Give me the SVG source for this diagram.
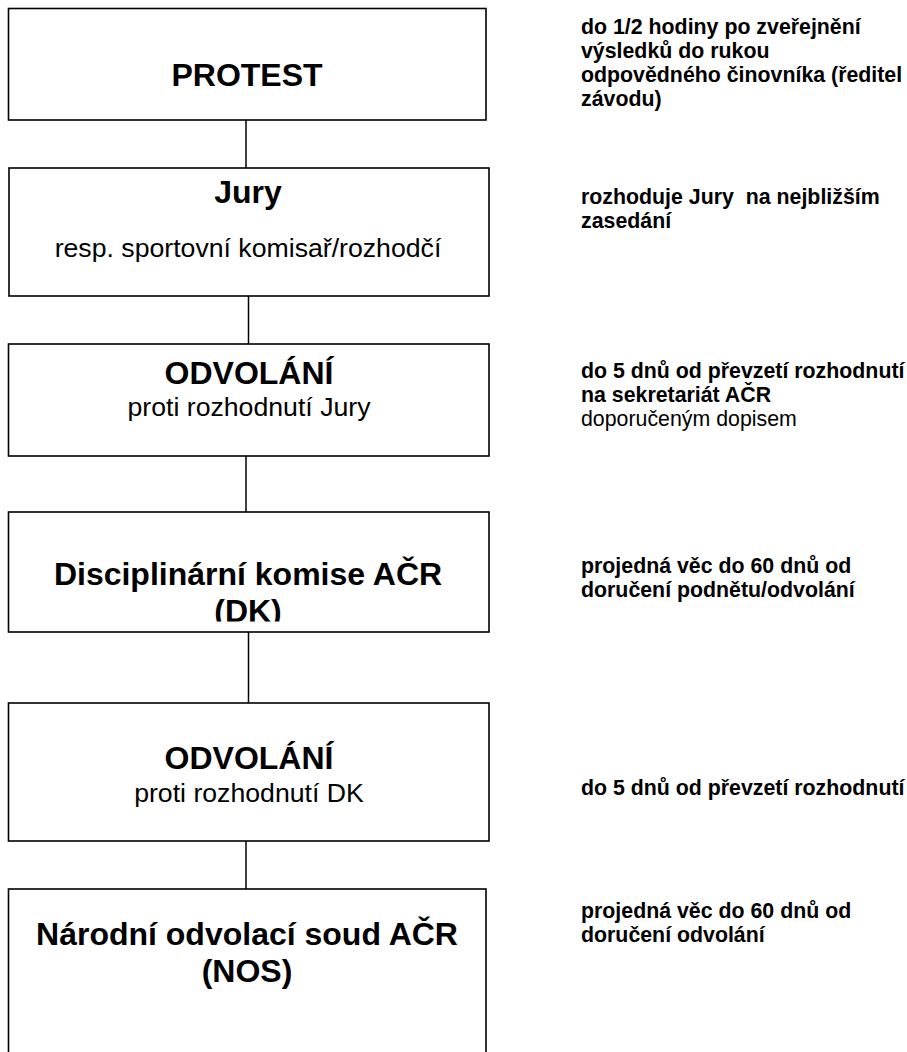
<svg xmlns="http://www.w3.org/2000/svg" width="907" height="1052" viewBox="0 0 907 1052">
<style>
.box{fill:#fff;stroke:#000;stroke-width:1.6}
.conn line{stroke:#000;stroke-width:1.5}
text{font-family:"Liberation Sans",Arial,sans-serif;fill:#000}
.h{font-size:32px;font-weight:bold;text-anchor:middle}
.s{font-size:26.67px;text-anchor:middle}
.n{font-size:21.33px;font-weight:bold}
.r{font-weight:normal}
</style>
<defs>
<clipPath id="dkclip"><rect x="0" y="512" width="500" height="109.5"/></clipPath>
</defs>
<g id="connectors" class="conn">
<line x1="246" y1="120" x2="246" y2="168"/>
<line x1="248.5" y1="296" x2="248.5" y2="344"/>
<line x1="246" y1="456" x2="246" y2="512"/>
<line x1="248.5" y1="632" x2="248.5" y2="703"/>
<line x1="246" y1="841" x2="246" y2="889"/>
</g>
<g id="protest">
<rect class="box" x="8.5" y="8.5" width="477.5" height="111.5"/>
<text class="h" x="247" y="86">PROTEST</text>
</g>
<g id="jury">
<rect class="box" x="9" y="168" width="480" height="128"/>
<text class="h" x="248" y="203">Jury</text>
<text class="s" x="248" y="257">resp. sportovní komisař/rozhodčí</text>
</g>
<g id="odvolani1">
<rect class="box" x="8.5" y="344" width="480.5" height="112"/>
<text class="h" x="249" y="384">ODVOLÁNÍ</text>
<text class="s" x="249" y="416">proti rozhodnutí Jury</text>
</g>
<g id="dk">
<rect class="box" x="8.5" y="512" width="480.5" height="120"/>
<g clip-path="url(#dkclip)">
<text class="h" x="248" y="585">Disciplinární komise AČR</text>
<text class="h" x="248" y="622">(DK)</text>
</g>
</g>
<g id="odvolani2">
<rect class="box" x="8.5" y="703" width="480.5" height="138"/>
<text class="h" x="249" y="769">ODVOLÁNÍ</text>
<text class="s" x="249" y="802">proti rozhodnutí DK</text>
</g>
<g id="nos">
<rect class="box" x="8.5" y="889" width="477.5" height="180"/>
<text class="h" x="247" y="945">Národní odvolací soud AČR</text>
<text class="h" x="247" y="982">(NOS)</text>
</g>
<g id="notes">
<text class="n" x="581" y="34">do 1/2 hodiny po zveřejnění</text>
<text class="n" x="581" y="58">výsledků do rukou</text>
<text class="n" x="581" y="82">odpovědného činovníka (ředitel</text>
<text class="n" x="581" y="106">závodu)</text>
<text class="n" x="581" y="204" xml:space="preserve">rozhoduje Jury  na nejbližším</text>
<text class="n" x="581" y="228">zasedání</text>
<text class="n" x="581" y="378">do 5 dnů od převzetí rozhodnutí</text>
<text class="n" x="581" y="402">na sekretariát AČR</text>
<text class="n r" x="581" y="426">doporučeným dopisem</text>
<text class="n" x="581" y="573">projedná věc do 60 dnů od</text>
<text class="n" x="581" y="597">doručení podnětu/odvolání</text>
<text class="n" x="581" y="795">do 5 dnů od převzetí rozhodnutí</text>
<text class="n" x="581" y="918">projedná věc do 60 dnů od</text>
<text class="n" x="581" y="942">doručení odvolání</text>
</g>
</svg>
